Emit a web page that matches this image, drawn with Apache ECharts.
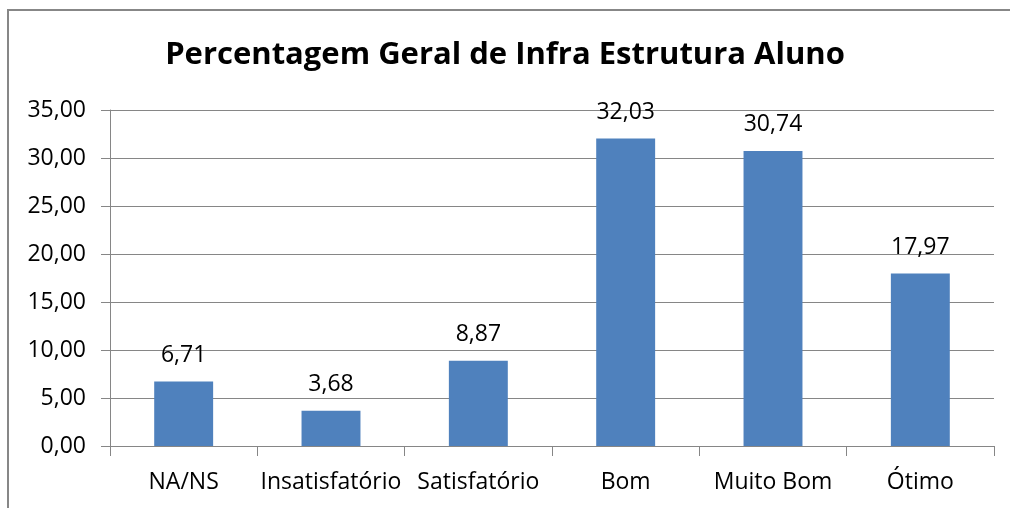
<!DOCTYPE html>
<html><head><meta charset="utf-8">
<script src="https://cdn.jsdelivr.net/npm/echarts@6/dist/echarts.min.js"></script>
<style>html,body{margin:0;padding:0;background:#fff}#c{width:1010px;height:508px}</style>
</head><body><div id="c"></div>
<script>
const categories = ['NA/NS','Insatisfatório','Satisfatório','Bom','Muito Bom','Ótimo'];
const values = [6.71, 3.68, 8.87, 32.03, 30.74, 17.97];
const titleText = 'Percentagem Geral de Infra Estrutura Aluno';
const fmt = v => v.toFixed(2).replace('.', ',');
const FONT = 'Open Sans';
const chart = echarts.init(document.getElementById('c'), null, {renderer:'canvas'});
chart.setOption({
  animation:false,
  backgroundColor:'#fff',
  graphic:[{type:'rect',shape:{x:8,y:10,width:1020,height:520},style:{fill:'none',stroke:'#878787',lineWidth:2},silent:true}],
  title:{text:titleText,left:'center',top:35,textStyle:{fontFamily:FONT,fontWeight:'bold',fontSize:31,color:'#000'}},
  grid:{left:110,right:16,top:110,bottom:62,containLabel:false},
  xAxis:{type:'category',data:categories,
    axisLine:{lineStyle:{color:'#868686',width:1}},
    axisTick:{show:true,length:10,alignWithLabel:false,lineStyle:{color:'#868686'}},
    axisLabel:{fontFamily:FONT,fontSize:23,color:'#000',margin:25,interval:0}},
  yAxis:{type:'value',min:0,max:35,interval:5,
    axisLine:{show:true,lineStyle:{color:'#868686'}},
    axisTick:{show:true,length:9,lineStyle:{color:'#868686'}},
    splitLine:{lineStyle:{color:'#868686',width:1}},
    axisLabel:{fontFamily:FONT,fontSize:23,color:'#000',margin:24,formatter:v=>fmt(v)}},
  series:[{type:'bar',data:values,barWidth:'40%',
    itemStyle:{color:'#4F81BD'},
    label:{show:true,position:'top',distance:15,fontFamily:FONT,fontSize:23,color:'#000',formatter:p=>fmt(p.value)}}]
});
</script></body></html>
